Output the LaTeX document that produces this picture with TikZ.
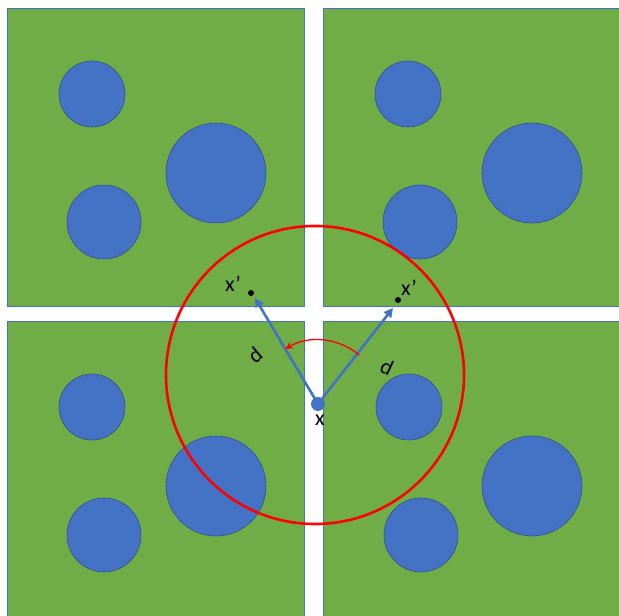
\documentclass[tikz,border=0pt]{standalone}
\usepackage{fontspec}
\setmainfont{Carlito}
\usetikzlibrary{arrows.meta}
\definecolor{grn}{HTML}{70AD47}
\definecolor{blu}{HTML}{4472C4}
\definecolor{bluedge}{HTML}{2F528F}
\begin{document}
\begin{tikzpicture}[x=1pt,y=1pt,
  tile/.style={fill=grn,draw=blu,line width=0.8pt},
  blob/.style={fill=blu,draw=bluedge,line width=0.6pt},
  lbl/.style={font=\fontsize{22}{26}\selectfont,inner sep=0pt},
  vec/.style={draw=blu,line width=2.6pt,-{Triangle[length=9pt,width=9pt]}},
  pt/.style={circle,fill=black,inner sep=0pt,minimum size=6pt}]
\useasboundingbox (0,0) rectangle (619,616);
\clip (0,0) rectangle (619,616);
\fill[white] (0,0) rectangle (619,616);
% tiles
\foreach \ox/\oy in {0/0,316/0,0/-313,316/-313}{
  \begin{scope}[shift={(\ox,\oy)}]
    \draw[tile] (7,310) rectangle (304,608);
    \draw[blob] (92,522) circle (33);
    \draw[blob] (216,443) circle (50);
    \draw[blob] (104,394) circle (37);
  \end{scope}
}
\draw[tile] (323,-10) rectangle (625,295);
\foreach \cx/\cy/\r in {409/209/33,532/130/50,421/81/37}{\draw[blob] (\cx,\cy) circle (\r);}
% red neighbourhood circle
\draw[red,line width=2.6pt] (315,241) circle (149);
% point x
\node[circle,fill=blu,inner sep=0pt,minimum size=14pt] (x) at (318,212) {};
\node[lbl] (xl) at (320,196) {x};
\node[pt] (p1) at (251,323) {};
\node[pt] (p2) at (398,316) {};
\node[lbl] (p1l) at (233,332) {x’};
\node[lbl] (p2l) at (409,328) {x’};
\coordinate (e1) at (255,318);
\coordinate (e2) at (393,308);
\draw[vec] (x.center) -- (e1);
\draw[vec] (x.center) -- (e2);
\node[lbl,rotate=40] (d1) at (255,261) {d};
\node[lbl,rotate=-25] (d2) at (387,249) {d};
% rotation arc
\draw[red,line width=1.3pt,-{Stealth[length=8pt,width=7pt]}] ([shift={(50:64)}]x.center) arc[start angle=50,end angle=121,radius=64];
\end{tikzpicture}
\end{document}
